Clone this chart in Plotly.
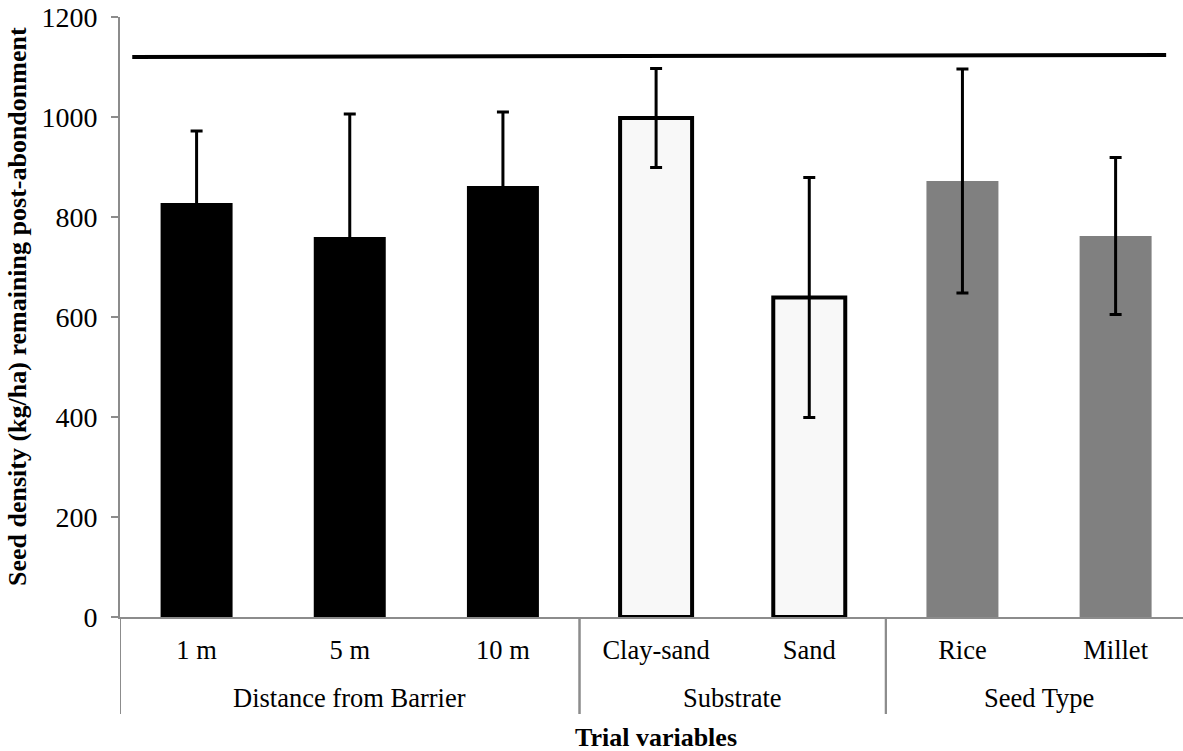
import plotly.graph_objects as go

# ---- data ----
groups = ["Distance from Barrier", "Distance from Barrier", "Distance from Barrier",
          "Substrate", "Substrate", "Seed Type", "Seed Type"]
categories = ["1 m", "5 m", "10 m", "Clay-sand", "Sand", "Rice", "Millet"]
seed_density = [828, 760, 862, 998, 639, 872, 762]
error_sd = [144, 246, 148, 99, 240, 224, 157]
bar_colors = ["#000000", "#000000", "#000000", "#f8f8f8", "#f8f8f8", "#808080", "#808080"]
bar_outline_widths = [0, 0, 0, 4, 4, 0, 0]

# reference (pre-abandonment) density line
ref_line_x = [-0.42, 6.33]
ref_line_y = [1120, 1124]

y_ticks = [0, 200, 400, 600, 800, 1000, 1200]

FONT = "Liberation Serif, Times New Roman, serif"
AXIS_GRAY = "#8c8c8c"

# group spans (category index ranges) derived from the group list
group_names = []
group_idx = {}
for i, g in enumerate(groups):
    if g not in group_idx:
        group_names.append(g)
        group_idx[g] = []
    group_idx[g].append(i)

fig = go.Figure()
fig.add_trace(go.Bar(
    x=categories,
    y=seed_density,
    marker=dict(color=bar_colors,
                line=dict(color="#000000", width=bar_outline_widths)),
    error_y=dict(type="data", array=error_sd, visible=True,
                 color="#000000", thickness=3, width=6),
    showlegend=False,
))
fig.add_trace(go.Scatter(
    x=ref_line_x, y=ref_line_y, xaxis="x2", mode="lines",
    line=dict(color="#000000", width=4), showlegend=False,
))

annotations = []
shapes = []
for g in group_names:
    idx = group_idx[g]
    annotations.append(dict(
        text=g, xref="x", yref="paper",
        x=sum(idx) / len(idx), y=-(698 - 617) / 600,
        xanchor="center", yanchor="middle", showarrow=False,
        font=dict(family=FONT, size=26.5, color="#000000")))
    for b in (min(idx) - 0.5, max(idx) + 0.5):
        shapes.append(dict(
            type="line", xref="x", yref="paper",
            x0=b, x1=b, y0=0, y1=-(714 - 617) / 600,
            line=dict(color=AXIS_GRAY, width=2)))

annotations += [
    dict(text="<b>Trial variables</b>", xref="paper", yref="paper",
         x=(656 - 120) / 1063, y=-(737 - 617) / 600,
         xanchor="center", yanchor="middle", showarrow=False,
         font=dict(family=FONT, size=26, color="#000000")),
    dict(text="<b>Seed density (kg/ha) remaining post-abondonment</b>",
         xref="paper", yref="paper",
         x=(18 - 120) / 1063, y=(617 - 307) / 600,
         xanchor="center", yanchor="middle", textangle=-90, showarrow=False,
         font=dict(family=FONT, size=26, color="#000000")),
]

fig.update_layout(
    width=1183, height=751,
    margin=dict(l=120, r=0, t=17, b=134),
    plot_bgcolor="white", paper_bgcolor="white",
    bargap=0.53,
    font=dict(family=FONT, color="#000000", size=26),
    xaxis=dict(
        type="category",
        range=[-0.5, 6.44],
        showline=True, linecolor=AXIS_GRAY, linewidth=2,
        ticks="", showgrid=False, zeroline=False,
        tickfont=dict(family=FONT, size=26.5, color="#000000"),
        ticklabelstandoff=8,
    ),
    xaxis2=dict(
        overlaying="x", range=[-0.5, 6.44], visible=False,
    ),
    yaxis=dict(
        range=[0, 1200], tickvals=y_ticks,
        showline=True, linecolor=AXIS_GRAY, linewidth=2,
        ticks="outside", ticklen=7, tickwidth=2, tickcolor=AXIS_GRAY,
        showgrid=False, zeroline=False,
        tickfont=dict(family=FONT, size=28, color="#000000"),
        ticklabelstandoff=8,
    ),
    annotations=annotations,
    shapes=shapes,
)

fig.write_html("out.html")
